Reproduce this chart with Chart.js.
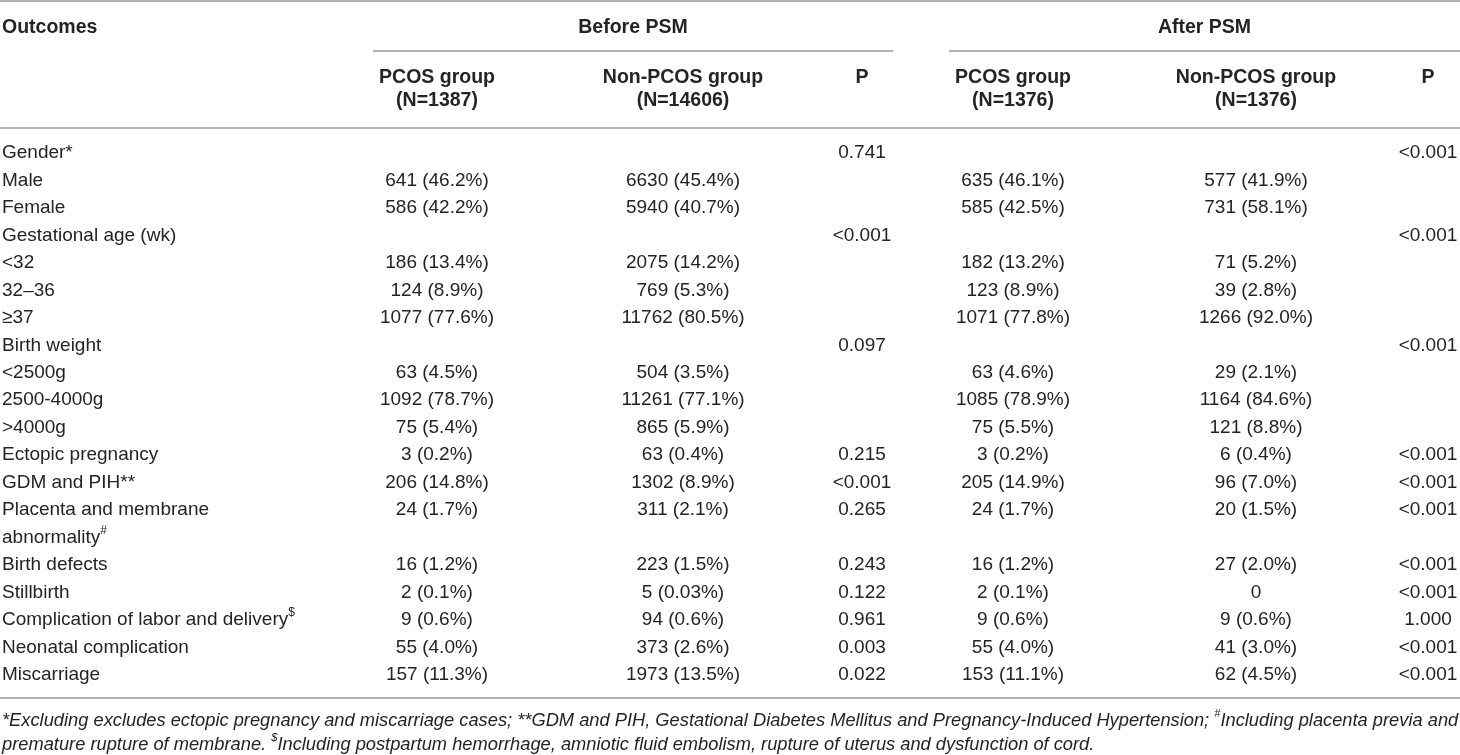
<!DOCTYPE html>
<html>
<head>
<meta charset="utf-8">
<title>Pregnancy outcomes, before and after PSM</title>
<script src="https://cdn.jsdelivr.net/npm/chart.js@4.4.1/dist/chart.umd.min.js"></script>
<style>
  html, body { margin: 0; padding: 0; background: #fff; }
  #wrap { width: 1460px; height: 755px; }
</style>
</head>
<body>
<div id="wrap"><canvas id="chart" width="1460" height="755"></canvas></div>
<script>
// Row labels (superscript marks are split off when drawn)
const rowLabels = [
  'Gender*', 'Male', 'Female', 'Gestational age (wk)', '<32', '32–36', '≥37',
  'Birth weight', '<2500g', '2500-4000g', '>4000g', 'Ectopic pregnancy',
  'GDM and PIH**', 'Placenta and membrane', 'abnormality#', 'Birth defects',
  'Stillbirth', 'Complication of labor and delivery$', 'Neonatal complication', 'Miscarriage'
];

// Before PSM
const beforePcosN   = [null, 641, 586, null, 186, 124, 1077, null, 63, 1092, 75, 3, 206, 24, null, 16, 2, 9, 55, 157];
const beforePcosPct = [null, 46.2, 42.2, null, 13.4, 8.9, 77.6, null, 4.5, 78.7, 5.4, 0.2, 14.8, 1.7, null, 1.2, 0.1, 0.6, 4.0, 11.3];
const beforeNonN    = [null, 6630, 5940, null, 2075, 769, 11762, null, 504, 11261, 865, 63, 1302, 311, null, 223, 5, 94, 373, 1973];
const beforeNonPct  = [null, 45.4, 40.7, null, 14.2, 5.3, 80.5, null, 3.5, 77.1, 5.9, 0.4, 8.9, 2.1, null, 1.5, 0.03, 0.6, 2.6, 13.5];
const beforeP = ['0.741', null, null, '<0.001', null, null, null, '0.097', null, null, null,
  '0.215', '<0.001', '0.265', null, '0.243', '0.122', '0.961', '0.003', '0.022'];

// After PSM
const afterPcosN   = [null, 635, 585, null, 182, 123, 1071, null, 63, 1085, 75, 3, 205, 24, null, 16, 2, 9, 55, 153];
const afterPcosPct = [null, 46.1, 42.5, null, 13.2, 8.9, 77.8, null, 4.6, 78.9, 5.5, 0.2, 14.9, 1.7, null, 1.2, 0.1, 0.6, 4.0, 11.1];
const afterNonN    = [null, 577, 731, null, 71, 39, 1266, null, 29, 1164, 121, 6, 96, 20, null, 27, 0, 9, 41, 62];
const afterNonPct  = [null, 41.9, 58.1, null, 5.2, 2.8, 92.0, null, 2.1, 84.6, 8.8, 0.4, 7.0, 1.5, null, 2.0, null, 0.6, 3.0, 4.5];
const afterP = ['<0.001', null, null, '<0.001', null, null, null, '<0.001', null, null, null,
  '<0.001', '<0.001', '<0.001', null, '<0.001', '<0.001', '1.000', '<0.001', '<0.001'];

// Header texts
const groupHeaders = ['Before PSM', 'After PSM'];
const colHeaders = [
  ['PCOS group', '(N=1387)'], ['Non-PCOS group', '(N=14606)'], ['P'],
  ['PCOS group', '(N=1376)'], ['Non-PCOS group', '(N=1376)'], ['P']
];
const footnotes = [
  '*Excluding excludes ectopic pregnancy and miscarriage cases; **GDM and PIH, Gestational Diabetes Mellitus and Pregnancy-Induced Hypertension; #Including placenta previa and',
  'premature rupture of membrane. $Including postpartum hemorrhage, amniotic fluid embolism, rupture of uterus and dysfunction of cord.'
];

// layout (pixels on the linear x scale)
const COL_X = [2, 437, 683, 862, 1013, 1256, 1428];
const SPANS = [[373, 893], [949, 1460]];
const FONT = '"Liberation Sans", Arial, Helvetica, sans-serif';
const TEXT_COLOR = '#262324';
const RULE_COLOR = '#9a9a9a';

function cellText(n, pct) {
  if (n == null) return null;
  if (pct == null) return String(n);
  return n + ' (' + (pct < 0.1 ? pct.toFixed(2) : pct.toFixed(1)) + '%)';
}

const columns = [
  rowLabels,
  beforePcosN.map((n, i) => cellText(n, beforePcosPct[i])),
  beforeNonN.map((n, i) => cellText(n, beforeNonPct[i])),
  beforeP,
  afterPcosN.map((n, i) => cellText(n, afterPcosPct[i])),
  afterNonN.map((n, i) => cellText(n, afterNonPct[i])),
  afterP
];

// one scatter dataset per column; y is the row label on the category scale
const datasets = columns.map((col, c) => ({
  label: 'col' + c,
  align: c === 0 ? 'left' : 'center',
  data: col.map((t, i) => t == null ? null : { x: COL_X[c], y: rowLabels[i], text: t }).filter(Boolean),
  pointRadius: 0,
  pointHoverRadius: 0
}));

// draws text; # and $ are raised as superscripts
function drawRich(ctx, text, x, y, size, style) {
  const parts = text.split(/([#$])/).filter(p => p !== '');
  let total = 0;
  const pieces = parts.map(p => {
    const sup = (p === '#' || p === '$');
    ctx.font = style + ' ' + (sup ? Math.round(size * 0.62) : size) + 'px ' + FONT;
    const w = ctx.measureText(p).width;
    total += w;
    return { p, sup, w };
  });
  let cx = ctx.textAlign === 'center' ? x - total / 2 : x;
  const saveAlign = ctx.textAlign;
  ctx.textAlign = 'left';
  pieces.forEach(pc => {
    ctx.font = style + ' ' + (pc.sup ? Math.round(size * 0.62) : size) + 'px ' + FONT;
    ctx.fillText(pc.p, cx, pc.sup ? y - size * 0.38 : y);
    cx += pc.w;
  });
  ctx.textAlign = saveAlign;
}

function rule(ctx, x1, x2, y) {
  ctx.beginPath();
  ctx.moveTo(x1, y);
  ctx.lineTo(x2, y);
  ctx.stroke();
}

const tablePlugin = {
  id: 'tableText',
  afterDatasetsDraw(chart) {
    const ctx = chart.ctx;
    const xs = chart.scales.x;
    const W = chart.width;
    ctx.save();
    ctx.fillStyle = TEXT_COLOR;
    ctx.textBaseline = 'middle';

    // rules
    ctx.strokeStyle = RULE_COLOR;
    ctx.lineWidth = 1.6;
    rule(ctx, 0, W, 1);
    SPANS.forEach(s => rule(ctx, xs.getPixelForValue(s[0]), xs.getPixelForValue(s[1]), 51));
    rule(ctx, 0, W, 128);
    rule(ctx, 0, W, 698);

    // header
    ctx.font = 'bold 19.5px ' + FONT;
    ctx.textAlign = 'left';
    ctx.fillText('Outcomes', xs.getPixelForValue(COL_X[0]), 28);
    ctx.textAlign = 'center';
    groupHeaders.forEach((g, k) => {
      const mid = (xs.getPixelForValue(SPANS[k][0]) + xs.getPixelForValue(SPANS[k][1])) / 2;
      ctx.fillText(g, mid, 28);
    });
    colHeaders.forEach((lines, k) => {
      const x = xs.getPixelForValue(COL_X[k + 1]);
      lines.forEach((t, li) => ctx.fillText(t, x, 78 + li * 23));
    });

    // body cells, placed at each point of the datasets
    chart.data.datasets.forEach((ds, di) => {
      const meta = chart.getDatasetMeta(di);
      ctx.textAlign = ds.align;
      meta.data.forEach((el, j) => {
        drawRich(ctx, ds.data[j].text, el.x, el.y, 19, 'normal');
      });
    });

    // footnotes
    ctx.textAlign = 'left';
    footnotes.forEach((f, k) => drawRich(ctx, f, 2, 721 + k * 24, 18.3, 'italic'));
    ctx.restore();
  }
};

new Chart(document.getElementById('chart'), {
  type: 'scatter',
  data: { datasets },
  options: {
    responsive: false,
    animation: false,
    devicePixelRatio: 1,
    layout: { padding: { top: 153, bottom: 80, left: 0, right: 0 } },
    plugins: { legend: { display: false }, tooltip: { enabled: false } },
    events: [],
    scales: {
      x: { type: 'linear', min: 0, max: 1460, display: false },
      y: { type: 'category', labels: rowLabels, offset: false, display: false }
    }
  },
  plugins: [tablePlugin]
});
</script>
</body>
</html>
